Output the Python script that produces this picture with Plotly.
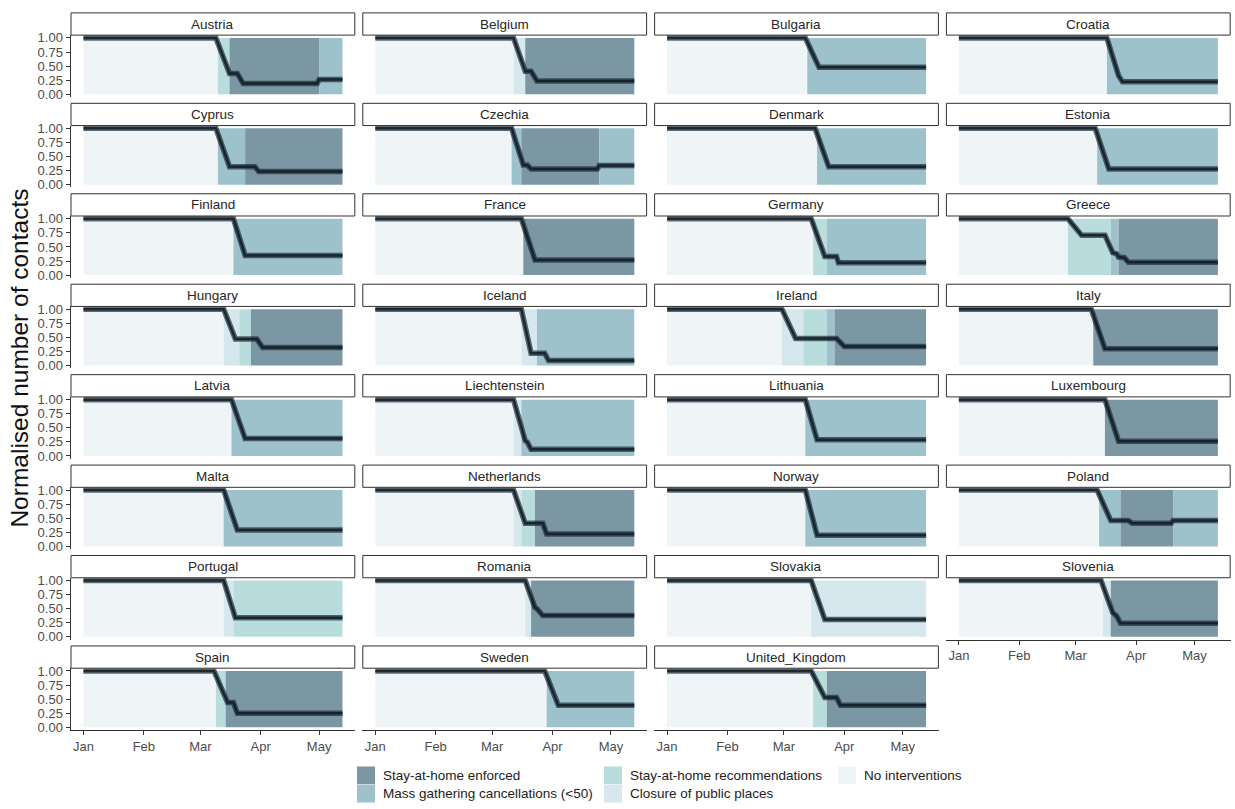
import plotly.graph_objects as go

# ---------------------------------------------------------------- data
START = "2020-01-01"
END = "2020-05-13"

COUNTRIES = [
    "Austria", "Belgium", "Bulgaria", "Croatia",
    "Cyprus", "Czechia", "Denmark", "Estonia",
    "Finland", "France", "Germany", "Greece",
    "Hungary", "Iceland", "Ireland", "Italy",
    "Latvia", "Liechtenstein", "Lithuania", "Luxembourg",
    "Malta", "Netherlands", "Norway", "Poland",
    "Portugal", "Romania", "Slovakia", "Slovenia",
    "Spain", "Sweden", "United_Kingdom",
]

INTERVENTION_NAMES = {
    "enforced": "Stay-at-home enforced",
    "mass": "Mass gathering cancellations (<50)",
    "recs": "Stay-at-home recommendations",
    "closure": "Closure of public places",
    "none": "No interventions",
}
INTERVENTION_COLOURS = {
    "enforced": "#7b97a3",
    "mass": "#9dc2cb",
    "recs": "#b9dcdd",
    "closure": "#d6e8ee",
    "none": "#eff4f7",
}
LEGEND_COLUMNS = [["enforced", "mass"], ["recs", "closure"], ["none"]]

# start date of each intervention period (each runs until the next one / END)
INTERVENTIONS = {
    "Austria": [(START, "none"), ("2020-03-10", "recs"), ("2020-03-16", "enforced"), ("2020-05-01", "mass")],
    "Belgium": [(START, "none"), ("2020-03-12", "closure"), ("2020-03-18", "enforced")],
    "Bulgaria": [(START, "none"), ("2020-03-13", "mass")],
    "Croatia": [(START, "none"), ("2020-03-17", "mass")],
    "Cyprus": [(START, "none"), ("2020-03-10", "mass"), ("2020-03-24", "enforced")],
    "Czechia": [(START, "none"), ("2020-03-11", "mass"), ("2020-03-16", "enforced"), ("2020-04-25", "mass")],
    "Denmark": [(START, "none"), ("2020-03-18", "mass")],
    "Estonia": [(START, "none"), ("2020-03-12", "mass")],
    "Finland": [(START, "none"), ("2020-03-18", "mass")],
    "France": [(START, "none"), ("2020-03-17", "enforced")],
    "Germany": [(START, "none"), ("2020-03-16", "recs"), ("2020-03-23", "mass")],
    "Greece": [(START, "none"), ("2020-02-26", "recs"), ("2020-03-19", "mass"), ("2020-03-23", "enforced")],
    "Hungary": [(START, "none"), ("2020-03-13", "closure"), ("2020-03-21", "recs"), ("2020-03-27", "enforced")],
    "Iceland": [(START, "none"), ("2020-03-16", "closure"), ("2020-03-24", "mass")],
    "Ireland": [(START, "none"), ("2020-02-29", "closure"), ("2020-03-11", "recs"), ("2020-03-23", "mass"),
                ("2020-03-27", "enforced")],
    "Italy": [(START, "none"), ("2020-03-10", "enforced")],
    "Latvia": [(START, "none"), ("2020-03-17", "mass")],
    "Liechtenstein": [(START, "none"), ("2020-03-12", "closure"), ("2020-03-16", "mass")],
    "Lithuania": [(START, "none"), ("2020-03-12", "mass")],
    "Luxembourg": [(START, "none"), ("2020-03-16", "enforced")],
    "Malta": [(START, "none"), ("2020-03-13", "mass")],
    "Netherlands": [(START, "none"), ("2020-03-12", "closure"), ("2020-03-16", "recs"), ("2020-03-23", "enforced")],
    "Norway": [(START, "none"), ("2020-03-12", "mass")],
    "Poland": [(START, "none"), ("2020-03-13", "mass"), ("2020-03-24", "enforced"), ("2020-04-20", "mass")],
    "Portugal": [(START, "none"), ("2020-03-13", "closure"), ("2020-03-18", "recs")],
    "Romania": [(START, "none"), ("2020-03-18", "closure"), ("2020-03-21", "enforced")],
    "Slovakia": [(START, "none"), ("2020-03-15", "closure")],
    "Slovenia": [(START, "none"), ("2020-03-15", "closure"), ("2020-03-19", "enforced")],
    "Spain": [(START, "none"), ("2020-03-09", "recs"), ("2020-03-14", "enforced")],
    "Sweden": [(START, "none"), ("2020-03-29", "mass")],
    "United_Kingdom": [(START, "none"), ("2020-03-16", "recs"), ("2020-03-23", "enforced")],
}

# normalised number of contacts: (date, value) breakpoints
CONTACTS = {
    "Austria": [(START, 1.0), ("2020-03-09", 1.0), ("2020-03-16", 0.37), ("2020-03-20", 0.37),
                ("2020-03-23", 0.19), ("2020-04-30", 0.19), ("2020-05-01", 0.26), (END, 0.26)],
    "Belgium": [(START, 1.0), ("2020-03-12", 1.0), ("2020-03-18", 0.41), ("2020-03-21", 0.41),
                ("2020-03-24", 0.235), (END, 0.235)],
    "Bulgaria": [(START, 1.0), ("2020-03-12", 1.0), ("2020-03-19", 0.48), (END, 0.48)],
    "Croatia": [(START, 1.0), ("2020-03-17", 1.0), ("2020-03-23", 0.33), ("2020-03-25", 0.22), (END, 0.22)],
    "Cyprus": [(START, 1.0), ("2020-03-09", 1.0), ("2020-03-16", 0.32), ("2020-03-29", 0.32),
               ("2020-03-31", 0.235), (END, 0.235)],
    "Czechia": [(START, 1.0), ("2020-03-11", 1.0), ("2020-03-17", 0.35), ("2020-03-19", 0.35),
                ("2020-03-21", 0.28), ("2020-04-24", 0.28), ("2020-04-25", 0.34), (END, 0.34)],
    "Denmark": [(START, 1.0), ("2020-03-17", 1.0), ("2020-03-24", 0.32), (END, 0.32)],
    "Estonia": [(START, 1.0), ("2020-03-11", 1.0), ("2020-03-18", 0.28), (END, 0.28)],
    "Finland": [(START, 1.0), ("2020-03-18", 1.0), ("2020-03-24", 0.35), (END, 0.35)],
    "France": [(START, 1.0), ("2020-03-16", 1.0), ("2020-03-23", 0.27), (END, 0.27)],
    "Germany": [(START, 1.0), ("2020-03-15", 1.0), ("2020-03-22", 0.33), ("2020-03-28", 0.33),
                ("2020-03-29", 0.22), (END, 0.22)],
    "Greece": [(START, 1.0), ("2020-02-26", 1.0), ("2020-03-04", 0.71), ("2020-03-16", 0.71),
               ("2020-03-20", 0.40), ("2020-03-22", 0.38), ("2020-03-23", 0.32), ("2020-03-26", 0.31),
               ("2020-03-28", 0.23), (END, 0.23)],
    "Hungary": [(START, 1.0), ("2020-03-13", 1.0), ("2020-03-19", 0.47), ("2020-03-30", 0.47),
                ("2020-04-02", 0.32), (END, 0.32)],
    "Iceland": [(START, 1.0), ("2020-03-16", 1.0), ("2020-03-21", 0.22), ("2020-03-28", 0.22),
                ("2020-03-30", 0.09), (END, 0.09)],
    "Ireland": [(START, 1.0), ("2020-02-29", 1.0), ("2020-03-07", 0.48), ("2020-03-28", 0.48),
                ("2020-03-30", 0.41), ("2020-04-01", 0.34), (END, 0.34)],
    "Italy": [(START, 1.0), ("2020-03-09", 1.0), ("2020-03-16", 0.30), (END, 0.30)],
    "Latvia": [(START, 1.0), ("2020-03-17", 1.0), ("2020-03-24", 0.31), (END, 0.31)],
    "Liechtenstein": [(START, 1.0), ("2020-03-12", 1.0), ("2020-03-18", 0.27), ("2020-03-19", 0.25),
                      ("2020-03-21", 0.12), (END, 0.12)],
    "Lithuania": [(START, 1.0), ("2020-03-12", 1.0), ("2020-03-18", 0.29), (END, 0.29)],
    "Luxembourg": [(START, 1.0), ("2020-03-16", 1.0), ("2020-03-23", 0.26), (END, 0.26)],
    "Malta": [(START, 1.0), ("2020-03-13", 1.0), ("2020-03-20", 0.29), (END, 0.29)],
    "Netherlands": [(START, 1.0), ("2020-03-12", 1.0), ("2020-03-18", 0.41), ("2020-03-27", 0.41),
                    ("2020-03-29", 0.22), (END, 0.22)],
    "Norway": [(START, 1.0), ("2020-03-12", 1.0), ("2020-03-18", 0.20), (END, 0.20)],
    "Poland": [(START, 1.0), ("2020-03-12", 1.0), ("2020-03-19", 0.46), ("2020-03-28", 0.46),
               ("2020-03-30", 0.41), ("2020-04-19", 0.41), ("2020-04-20", 0.46), (END, 0.46)],
    "Portugal": [(START, 1.0), ("2020-03-13", 1.0), ("2020-03-19", 0.34), (END, 0.34)],
    "Romania": [(START, 1.0), ("2020-03-18", 1.0), ("2020-03-23", 0.52), ("2020-03-24", 0.50),
                ("2020-03-27", 0.38), (END, 0.38)],
    "Slovakia": [(START, 1.0), ("2020-03-15", 1.0), ("2020-03-22", 0.31), (END, 0.31)],
    "Slovenia": [(START, 1.0), ("2020-03-14", 1.0), ("2020-03-20", 0.43), ("2020-03-22", 0.37),
                 ("2020-03-24", 0.24), (END, 0.24)],
    "Spain": [(START, 1.0), ("2020-03-08", 1.0), ("2020-03-15", 0.44), ("2020-03-18", 0.44),
              ("2020-03-20", 0.25), (END, 0.25)],
    "Sweden": [(START, 1.0), ("2020-03-28", 1.0), ("2020-04-04", 0.39), (END, 0.39)],
    "United_Kingdom": [(START, 1.0), ("2020-03-15", 1.0), ("2020-03-22", 0.53), ("2020-03-28", 0.53),
                       ("2020-03-30", 0.39), (END, 0.39)],
}

MONTH_TICKS = ["2020-01-01", "2020-02-01", "2020-03-01", "2020-04-01", "2020-05-01"]
MONTH_LABELS = ["Jan", "Feb", "Mar", "Apr", "May"]
Y_TICKS = [0.0, 0.25, 0.5, 0.75, 1.0]
Y_LABELS = ["0.00", "0.25", "0.50", "0.75", "1.00"]

# ---------------------------------------------------------------- layout geometry (px)
W, H = 1235, 809
NCOL = 4
PANEL_LEFT0, PANEL_PITCH_X, PANEL_W = 70.5, 291.8, 284.8
STRIP_TOP0, PANEL_PITCH_Y, STRIP_H, PANEL_H = 8.0, 91.57, 22.5, 62.7
X_RANGE = ["2019-12-25 08:00:00", "2020-05-19 14:00:00"]
Y_RANGE = [-0.05, 1.05]

FONT = "Liberation Sans, Arial, Helvetica, sans-serif"
AXIS_COL = "#333333"
TICK_TEXT = "#4d4d4d"


def px(x):
    return x / W


def py(y):
    return 1 - y / H


fig = go.Figure()
layout = dict(
    width=W, height=H, autosize=False,
    margin=dict(l=0, r=0, t=0, b=0),
    paper_bgcolor="white", plot_bgcolor="white",
    showlegend=False,
    font=dict(family=FONT, color="#1a1a1a"),
)
shapes, annotations = [], []

n = len(COUNTRIES)
for idx, country in enumerate(COUNTRIES):
    row, col = divmod(idx, NCOL)
    k = idx + 1
    xname = "x" if k == 1 else f"x{k}"
    yname = "y" if k == 1 else f"y{k}"

    left = PANEL_LEFT0 + col * PANEL_PITCH_X
    strip_top = STRIP_TOP0 + row * PANEL_PITCH_Y
    panel_top = strip_top + STRIP_H
    panel_bottom = panel_top + PANEL_H

    show_x = idx + NCOL >= n   # no panel underneath
    show_y = col == 0

    layout[f"xaxis{k}"] = dict(
        domain=[px(left), px(left + PANEL_W)], range=X_RANGE, type="date",
        anchor=yname, showgrid=False, zeroline=False, fixedrange=True,
        showline=show_x, linecolor=AXIS_COL, linewidth=1,
        ticks="outside" if show_x else "", ticklen=4, tickcolor=AXIS_COL, tickwidth=1,
        tickmode="array", tickvals=MONTH_TICKS, ticktext=MONTH_LABELS,
        showticklabels=show_x, tickfont=dict(size=13, color=TICK_TEXT),
    )
    layout[f"yaxis{k}"] = dict(
        domain=[py(panel_bottom), py(panel_top)], range=Y_RANGE,
        anchor=xname, showgrid=False, zeroline=False, fixedrange=True,
        showline=show_y, linecolor=AXIS_COL, linewidth=1,
        ticks="outside" if show_y else "", ticklen=4, tickcolor=AXIS_COL, tickwidth=1,
        tickmode="array", tickvals=Y_TICKS, ticktext=Y_LABELS,
        showticklabels=show_y, tickfont=dict(size=13, color=TICK_TEXT),
    )

    # intervention periods as background bands
    periods = INTERVENTIONS[country]
    for j, (start, kind) in enumerate(periods):
        stop = periods[j + 1][0] if j + 1 < len(periods) else END
        shapes.append(dict(
            type="rect", xref=xname, yref=yname, x0=start, x1=stop, y0=0, y1=1,
            fillcolor=INTERVENTION_COLOURS[kind], line=dict(width=0), layer="below",
        ))

    # contacts line: soft band with a darker core
    dates = [d for d, _ in CONTACTS[country]]
    values = [v for _, v in CONTACTS[country]]
    fig.add_trace(go.Scatter(
        x=dates, y=values, mode="lines", xaxis=xname, yaxis=yname,
        line=dict(color="rgba(28,46,58,0.70)", width=5.5), hoverinfo="skip",
    ))
    fig.add_trace(go.Scatter(
        x=dates, y=values, mode="lines", xaxis=xname, yaxis=yname,
        line=dict(color="rgba(16,26,34,0.82)", width=2.5), hoverinfo="skip",
    ))

    # facet strip
    shapes.append(dict(
        type="rect", xref="paper", yref="paper",
        x0=px(left + 0.5), x1=px(left + PANEL_W - 0.5),
        y0=py(panel_top), y1=py(strip_top),
        fillcolor="white", line=dict(color=AXIS_COL, width=1), layer="above",
    ))
    annotations.append(dict(
        xref="paper", yref="paper", x=px(left + PANEL_W / 2), y=py(strip_top + STRIP_H / 2),
        text=country, showarrow=False, xanchor="center", yanchor="middle",
        font=dict(size=13.5, color="#262626", family=FONT),
    ))

# y axis title
annotations.append(dict(
    xref="paper", yref="paper", x=px(20), y=py(358), text="Normalised number of contacts",
    textangle=-90, showarrow=False, xanchor="center", yanchor="middle",
    font=dict(size=24.5, color="#111111", family=FONT),
))

# legend (two rows, filled column by column)
LEGEND_X = [357, 604, 838]
LEGEND_Y = [771, 789.5]
SWATCH = 18
for cx, kinds in zip(LEGEND_X, LEGEND_COLUMNS):
    for ry, kind in zip(LEGEND_Y, kinds):
        shapes.append(dict(
            type="rect", xref="paper", yref="paper",
            x0=px(cx), x1=px(cx + SWATCH), y0=py(ry + SWATCH), y1=py(ry),
            fillcolor=INTERVENTION_COLOURS[kind], line=dict(width=0),
        ))
        annotations.append(dict(
            xref="paper", yref="paper", x=px(cx + SWATCH + 6), y=py(ry + SWATCH / 2),
            text=INTERVENTION_NAMES[kind], showarrow=False, xanchor="left", yanchor="middle",
            font=dict(size=13.5, color="#222222", family=FONT),
        ))

layout["shapes"] = shapes
layout["annotations"] = annotations
fig.update_layout(**layout)

fig.write_html("out.html")
